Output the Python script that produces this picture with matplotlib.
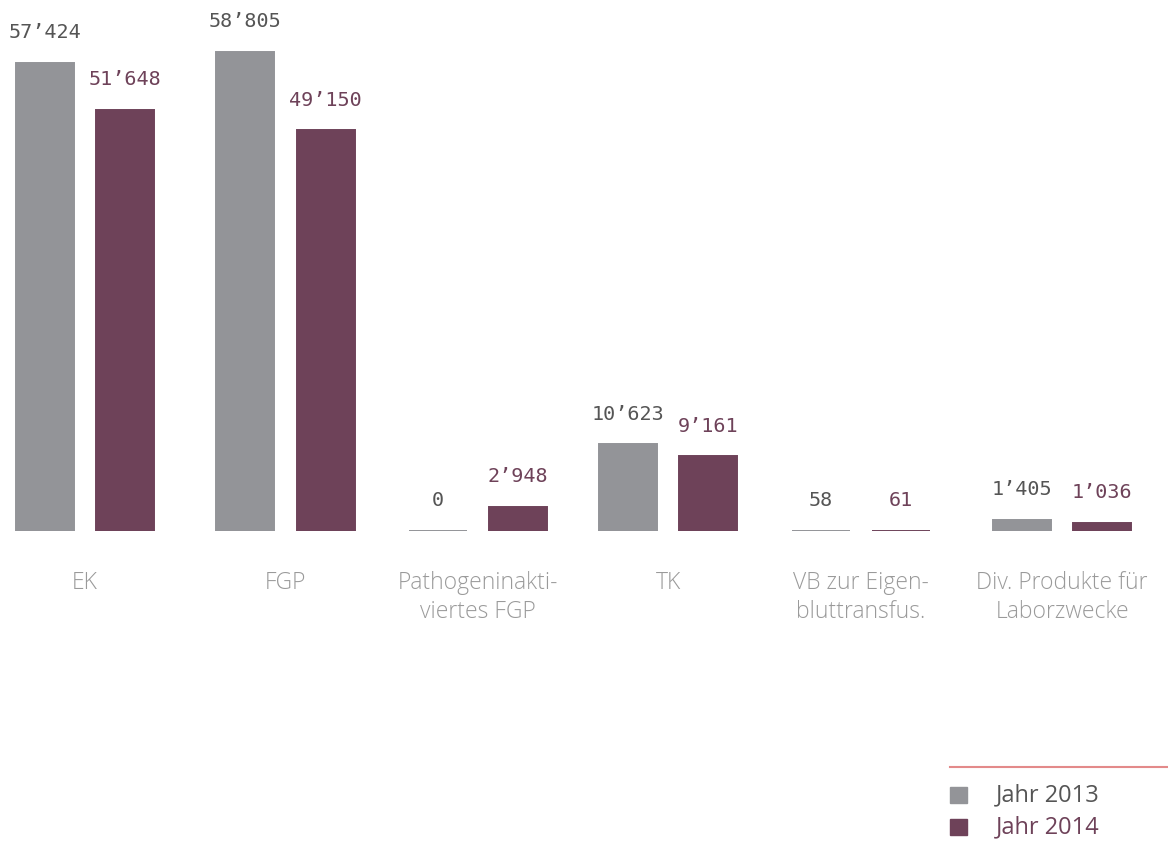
import numpy as np
import matplotlib.pyplot as plt
from matplotlib.patches import Rectangle
from matplotlib.lines import Line2D

categories = ["EK", "FGP", "Pathogeninakti-\nviertes FGP", "TK",
              "VB zur Eigen-\nbluttransfus.", "Div. Produkte für\nLaborzwecke"]
jahr_2013 = [57424, 58805, 0, 10623, 58, 1405]
jahr_2014 = [51648, 49150, 2948, 9161, 61, 1036]
series_names = ["Jahr 2013", "Jahr 2014"]

grey = "#939498"
purple = "#6e4259"
grey_text = "#555555"
label_grey = "#9a9a9a"

def fmt(v):
    return "{:,}".format(v).replace(",", "\u2019")

fig = plt.figure(figsize=(11.68, 8.51), dpi=100)
ax = fig.add_axes([0, 320 / 851, 1, 531 / 851])
ax.set_xlim(-0.435, 5.542)
ax.set_ylim(0, 65150)
ax.axis("off")

x = np.array([0, 1.026, 2.011, 2.984, 3.971, 5.0])
w = 0.297
off = 0.205

b1 = ax.bar(x - off, jahr_2013, w, color=grey, edgecolor=grey, linewidth=1.4)
b2 = ax.bar(x + off, jahr_2014, w, color=purple, edgecolor=purple, linewidth=1.4)

mono = "DejaVu Sans Mono"
for bars, vals, col in [(b1, jahr_2013, grey_text), (b2, jahr_2014, purple)]:
    for r, v in zip(bars, vals):
        ax.annotate(fmt(v), (r.get_x() + r.get_width() / 2, r.get_height()),
                    xytext=(0, 15), textcoords="offset points",
                    ha="center", va="bottom", fontsize=14.5, color=col,
                    family=mono)

# category names under each pair
for xi, name in zip(x, categories):
    ax.annotate(name, (xi, 0), xytext=(0, -29), textcoords="offset points",
                ha="center", va="top", fontsize=16.5, color=label_grey,
                family="Open Sans", fontweight="light", linespacing=1.28)

# legend block, bottom right
fig.add_artist(Line2D([950 / 1168, 1.0], [1 - 767 / 851] * 2,
                      color="#e38a8a", lw=1.5))
for i, (name, col, tcol) in enumerate(zip(series_names, [grey, purple],
                                           [grey_text, purple])):
    yc = 795 + 32 * i
    fig.add_artist(Rectangle((950 / 1168, 1 - (yc + 8) / 851), 17 / 1168, 16 / 851,
                             color=col, transform=fig.transFigure))
    fig.text(996 / 1168, 1 - yc / 851, name, ha="left", va="center",
             fontsize=17, color=tcol, family="Open Sans")

fig.savefig("out.png", dpi=100)
